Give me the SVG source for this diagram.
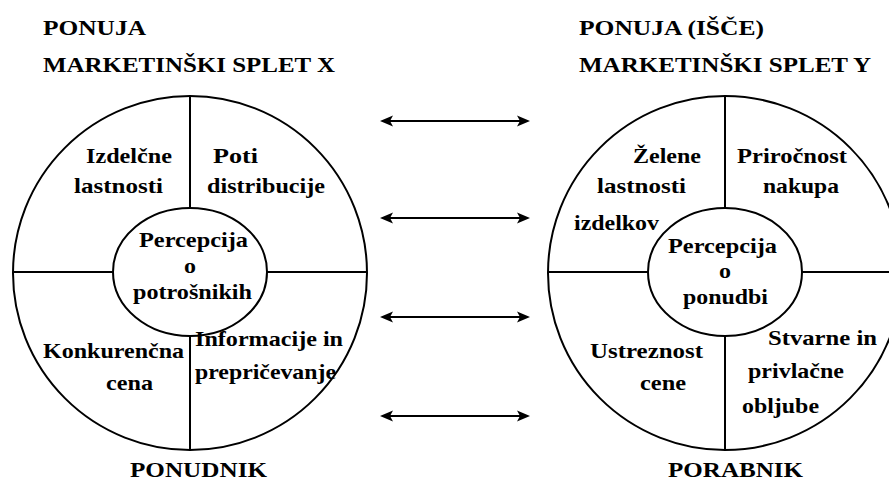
<svg xmlns="http://www.w3.org/2000/svg" width="889" height="484" viewBox="0 0 889 484">
<style>
  .shape { fill: none; stroke: #000; stroke-width: 2; }
  .arrow { fill: none; stroke: #000; stroke-width: 2.2; marker-start: url(#head); marker-end: url(#head); }
  text { font-family: "Liberation Serif", "Times New Roman", serif; font-weight: bold; font-size: 22px; fill: #000; }
</style>
<defs>
  <marker id="head" viewBox="-14 -7 15 14" markerWidth="15" markerHeight="14" refX="-3" refY="0" orient="auto-start-reverse" markerUnits="userSpaceOnUse">
    <path d="M0,0 L-13,-5.5 L-10,0 L-13,5.5 Z" fill="#000"/>
  </marker>
</defs>
<rect width="889" height="484" fill="#fff"/>

<g id="titles">
  <text x="43" y="35" textLength="103" lengthAdjust="spacingAndGlyphs">PONUJA</text>
  <text x="43" y="72" textLength="292" lengthAdjust="spacingAndGlyphs">MARKETINŠKI SPLET X</text>
  <text x="579" y="35" textLength="185" lengthAdjust="spacingAndGlyphs">PONUJA (IŠČE)</text>
  <text x="579" y="72" textLength="292" lengthAdjust="spacingAndGlyphs">MARKETINŠKI SPLET Y</text>
  <text x="130" y="477" textLength="137" lengthAdjust="spacingAndGlyphs">PONUDNIK</text>
  <text x="668" y="477" textLength="135" lengthAdjust="spacingAndGlyphs">PORABNIK</text>
</g>

<g id="mix-x">
  <circle class="shape" cx="190" cy="273" r="177"/>
  <line class="shape" x1="190" y1="96" x2="190" y2="208"/>
  <line class="shape" x1="190" y1="336" x2="190" y2="450"/>
  <line class="shape" x1="13" y1="272" x2="113" y2="272"/>
  <line class="shape" x1="267" y1="272" x2="367" y2="272"/>
</g>
<g id="x-izdelcne">
  <text x="86" y="163" textLength="86" lengthAdjust="spacingAndGlyphs">Izdelčne</text>
  <text x="74" y="193" textLength="89" lengthAdjust="spacingAndGlyphs">lastnosti</text>
</g>
<g id="x-poti">
  <text x="213" y="163" textLength="45" lengthAdjust="spacingAndGlyphs">Poti</text>
  <text x="207" y="193" textLength="118" lengthAdjust="spacingAndGlyphs">distribucije</text>
</g>
<g id="x-center">
  <ellipse class="shape" cx="190" cy="272" rx="77" ry="64"/>
  <text x="139" y="247" textLength="109" lengthAdjust="spacingAndGlyphs">Percepcija</text>
  <text x="184" y="273" textLength="12" lengthAdjust="spacingAndGlyphs">o</text>
  <text x="133" y="299" textLength="119" lengthAdjust="spacingAndGlyphs">potrošnikih</text>
</g>
<g id="x-cena">
  <text x="43" y="358" textLength="141" lengthAdjust="spacingAndGlyphs">Konkurenčna</text>
  <text x="106" y="390" textLength="47" lengthAdjust="spacingAndGlyphs">cena</text>
</g>
<g id="x-informacije">
  <text x="195" y="346" textLength="148" lengthAdjust="spacingAndGlyphs">Informacije in</text>
  <text x="195" y="379" textLength="141" lengthAdjust="spacingAndGlyphs">prepričevanje</text>
</g>

<g id="mix-y">
  <circle class="shape" cx="725" cy="273" r="177"/>
  <line class="shape" x1="725" y1="96" x2="725" y2="208"/>
  <line class="shape" x1="725" y1="336" x2="725" y2="450"/>
  <line class="shape" x1="548" y1="272" x2="648" y2="272"/>
  <line class="shape" x1="802" y1="272" x2="902" y2="272"/>
</g>
<g id="y-zelene">
  <text x="633" y="163" textLength="68" lengthAdjust="spacingAndGlyphs">Želene</text>
  <text x="597" y="193" textLength="89" lengthAdjust="spacingAndGlyphs">lastnosti</text>
  <text x="574" y="230" textLength="85" lengthAdjust="spacingAndGlyphs">izdelkov</text>
</g>
<g id="y-prirocnost">
  <text x="737" y="163" textLength="110" lengthAdjust="spacingAndGlyphs">Priročnost</text>
  <text x="763" y="193" textLength="76" lengthAdjust="spacingAndGlyphs">nakupa</text>
</g>
<g id="y-center">
  <ellipse class="shape" cx="725" cy="272" rx="77" ry="64"/>
  <text x="668" y="253" textLength="109" lengthAdjust="spacingAndGlyphs">Percepcija</text>
  <text x="719" y="278" textLength="12" lengthAdjust="spacingAndGlyphs">o</text>
  <text x="683" y="304" textLength="85" lengthAdjust="spacingAndGlyphs">ponudbi</text>
</g>
<g id="y-cene">
  <text x="590" y="358" textLength="113" lengthAdjust="spacingAndGlyphs">Ustreznost</text>
  <text x="640" y="390" textLength="46" lengthAdjust="spacingAndGlyphs">cene</text>
</g>
<g id="y-obljube">
  <text x="768" y="345" textLength="109" lengthAdjust="spacingAndGlyphs">Stvarne in</text>
  <text x="748" y="378" textLength="96" lengthAdjust="spacingAndGlyphs">privlačne</text>
  <text x="742" y="413" textLength="77" lengthAdjust="spacingAndGlyphs">obljube</text>
</g>

<g id="connectors">
  <line class="arrow" x1="383" y1="121" x2="527" y2="121"/>
  <line class="arrow" x1="383" y1="218" x2="527" y2="218"/>
  <line class="arrow" x1="383" y1="317" x2="527" y2="317"/>
  <line class="arrow" x1="383" y1="416" x2="527" y2="416"/>
</g>
</svg>
